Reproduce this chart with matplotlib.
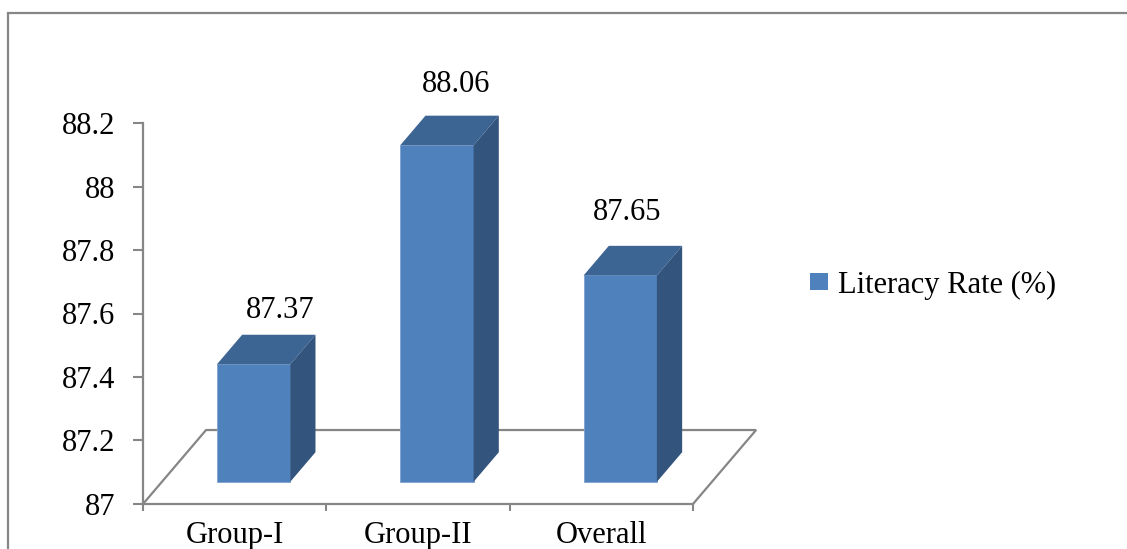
import numpy as np
import matplotlib
matplotlib.use('Agg')
import matplotlib.pyplot as plt
from matplotlib.patches import Polygon, Rectangle, Patch

plt.rcParams['font.family'] = ['Liberation Serif', 'DejaVu Serif']

categories = ['Group-I', 'Group-II', 'Overall']
literacy = [87.37, 88.06, 87.65]
value_labels = ['87.37', '88.06', '87.65']
y_ticks = [87, 87.2, 87.4, 87.6, 87.8, 88, 88.2]
y_tick_labels = ['87', '87.2', '87.4', '87.6', '87.8', '88', '88.2']
series_name = 'Literacy Rate (%)'

W, H = 1127, 549
fig = plt.figure(figsize=(W / 100, H / 100), dpi=100)
ax = fig.add_axes([143 / W, 45 / H, 550 / W, 381 / H])

grey = '#868686'
front_c = '#4F81BD'
top_c = '#3D6594'
side_c = '#33547D'

base = 87.0
# depth of the 3d floor in data units (x units, value units)
DX, DY = 0.344, 0.233
f0, f1 = 0.3, 0.7   # bar front / back as fraction of depth
bw = 0.4
# where excel put the value labels, relative to category centre / value
lab_dx = [0.247, 0.208, 0.14]
lab_dy = [0.241, 0.26, 0.267]

x = np.arange(len(categories)) + 0.5

# floor
n = len(categories)
floor = [(0, base), (DX, base + DY), (n + DX, base + DY), (n, base)]
ax.add_patch(Polygon(floor, closed=False, fill=False, edgecolor=grey,
                     lw=1.6, clip_on=False, zorder=1))

# bars (front face) + top and side faces
fx = x + f0 * DX
fy = base + f0 * DY
ax.bar(fx, np.array(literacy) - base, bottom=fy, width=bw, color=front_c,
       edgecolor='#7FA2CF', lw=0.6, zorder=3, clip_on=False)
ddx = (f1 - f0) * DX
ddy = (f1 - f0) * DY
for i, (xc, v, lab) in enumerate(zip(fx, literacy, value_labels)):
    l, r = xc - bw / 2, xc + bw / 2
    top = v + f0 * DY
    ax.add_patch(Polygon([(l, top), (l + ddx, top + ddy), (r + ddx, top + ddy), (r, top)],
                         facecolor=top_c, edgecolor='none', zorder=3, clip_on=False))
    ax.add_patch(Polygon([(r, fy), (r, top), (r + ddx, top + ddy), (r + ddx, fy + ddy)],
                         facecolor=side_c, edgecolor='none', zorder=3, clip_on=False))
    ax.text(x[i] + lab_dx[i], v + lab_dy[i], lab, ha='center', va='center',
            fontsize=22, color='black', clip_on=False)

ax.set_xlim(0, n)
ax.set_ylim(87, 88.2)
ax.set_yticks(y_ticks)
ax.set_yticklabels(y_tick_labels)
ax.set_xticks(np.arange(n + 1))
ax.set_xticklabels([])
ax.set_xticks(x, minor=True)
ax.set_xticklabels(categories, minor=True)

ax.tick_params(axis='y', length=7, width=1.5, color=grey, pad=13, labelsize=22)
ax.tick_params(axis='x', which='major', length=5, width=1.5, color=grey)
ax.tick_params(axis='x', which='minor', length=0, pad=12, labelsize=22)

for s in ['top', 'right']:
    ax.spines[s].set_visible(False)
for s in ['left', 'bottom']:
    ax.spines[s].set_color(grey)
    ax.spines[s].set_linewidth(1.6)
ax.spines['bottom'].set_zorder(4)

handle = Patch(facecolor=front_c, edgecolor='none')
fig.legend([handle], [series_name], loc='center left',
           bbox_to_anchor=(810 / W, 1 - 285 / H), frameon=False, fontsize=22,
           handlelength=0.6, handleheight=0.5, handletextpad=0.3,
           borderpad=0, borderaxespad=0)

# chart area border (runs off the right and bottom of the image)
fig.patches.append(Rectangle((8 / W, -0.1), 1.2, 1 - 13 / H + 0.1, transform=fig.transFigure,
                             fill=False, edgecolor=grey, lw=1.6))

fig.savefig('out.png', dpi=100)
